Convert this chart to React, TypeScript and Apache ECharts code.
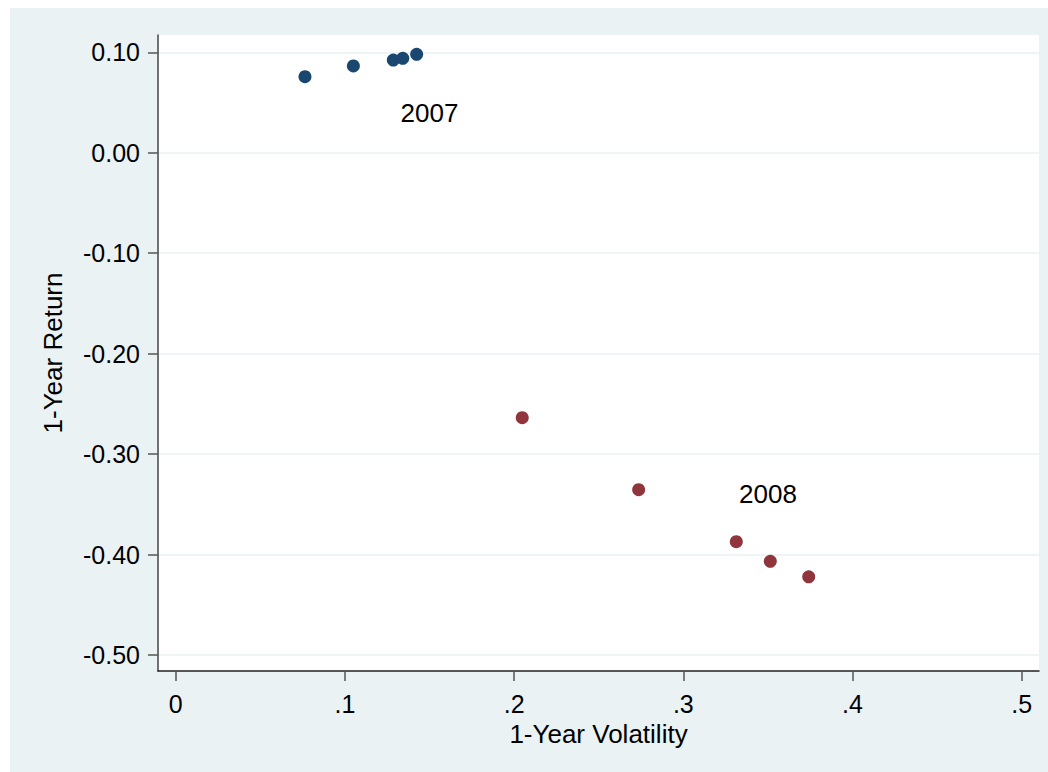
import React, { useEffect, useRef } from "react";
import * as echarts from "echarts";

// 2007 observations
const vol2007 = [0.0764, 0.105, 0.1286, 0.1342, 0.1424];
const ret2007 = [0.0757, 0.0864, 0.0923, 0.094, 0.098];
// 2008 observations
const vol2008 = [0.2048, 0.2736, 0.3313, 0.3514, 0.3741];
const ret2008 = [-0.2638, -0.3354, -0.3872, -0.4067, -0.4221];
// text annotations
const yearLabels = ["2007", "2008"];
const labelVol = [0.15, 0.35];
const labelRet = [0.04, -0.34];
// ticks
const xTicks = [0, 0.1, 0.2, 0.3, 0.4, 0.5];
const yTicks = [-0.5, -0.4, -0.3, -0.2, -0.1, 0, 0.1];

const FONT = "'Liberation Sans', Arial, sans-serif";
const BG = "#eaf2f3";

export default function App() {
  const ref = useRef<HTMLDivElement>(null);
  useEffect(() => {
    if (!ref.current) return;
    const chart = echarts.init(ref.current, null, { renderer: "svg" });
    const pts2007 = vol2007.map((v, i) => [v, ret2007[i]]);
    const pts2008 = vol2008.map((v, i) => [v, ret2008[i]]);
    const notes = yearLabels.map((n, i) => ({ name: n, value: [labelVol[i], labelRet[i]] }));
    chart.setOption({
      animation: false,
      backgroundColor: BG,
      textStyle: { fontFamily: FONT },
      grid: {
        left: 148,
        right: 9,
        top: 27,
        bottom: 101,
        show: true,
        backgroundColor: "#ffffff",
        borderWidth: 0,
      },
      xAxis: {
        type: "value",
        min: -0.01046,
        max: 0.5102,
        name: "1-Year Volatility",
        nameLocation: "middle",
        nameGap: 41,
        nameTextStyle: { fontSize: 26, color: "#000", fontFamily: FONT, lineHeight: 26 },
        axisLine: { show: true, onZero: false, lineStyle: { color: "#222", width: 1.5 } },
        axisTick: { show: true, length: 10, customValues: xTicks, lineStyle: { color: "#555", width: 1.5 } },
        axisLabel: {
          customValues: xTicks,
          margin: 20,
          fontSize: 25,
          lineHeight: 25,
          color: "#000",
          fontFamily: FONT,
          formatter: (v: number) => (v === 0 ? "0" : v.toFixed(1).replace(/^0/, "")),
        },
        splitLine: { show: false },
      },
      yAxis: {
        type: "value",
        min: -0.5159,
        max: 0.1172,
        name: "1-Year Return",
        nameLocation: "middle",
        nameGap: 92,
        nameTextStyle: { fontSize: 26, color: "#000", fontFamily: FONT, lineHeight: 26 },
        axisLine: { show: true, onZero: false, lineStyle: { color: "#444", width: 1.5 } },
        axisTick: { show: true, length: 10, customValues: yTicks, lineStyle: { color: "#555", width: 1.5 } },
        axisLabel: {
          customValues: yTicks,
          margin: 18,
          fontSize: 25,
          color: "#000",
          fontFamily: FONT,
          formatter: (v: number) => v.toFixed(2),
        },
        splitLine: { show: true, lineStyle: { color: BG, width: 1.5 } },
      },
      series: [
        {
          type: "scatter",
          data: pts2007,
          symbolSize: 13,
          itemStyle: { color: "#1a476f", opacity: 1 },
        },
        {
          type: "scatter",
          data: pts2008,
          symbolSize: 13,
          itemStyle: { color: "#90353b", opacity: 1 },
        },
        {
          type: "scatter",
          data: notes,
          symbolSize: 0,
          itemStyle: { color: "#000", opacity: 1 },
          label: {
            show: true,
            position: "inside",
            formatter: "{b}",
            fontSize: 26,
            color: "#000",
            opacity: 1,
            textBorderWidth: 0,
            fontFamily: FONT,
          },
          silent: true,
        },
      ],
    });
    return () => chart.dispose();
  }, []);
  return (
    <div
      ref={ref}
      style={{ position: "absolute", left: 10, top: 8, width: 1038, height: 764 }}
    />
  );
}
